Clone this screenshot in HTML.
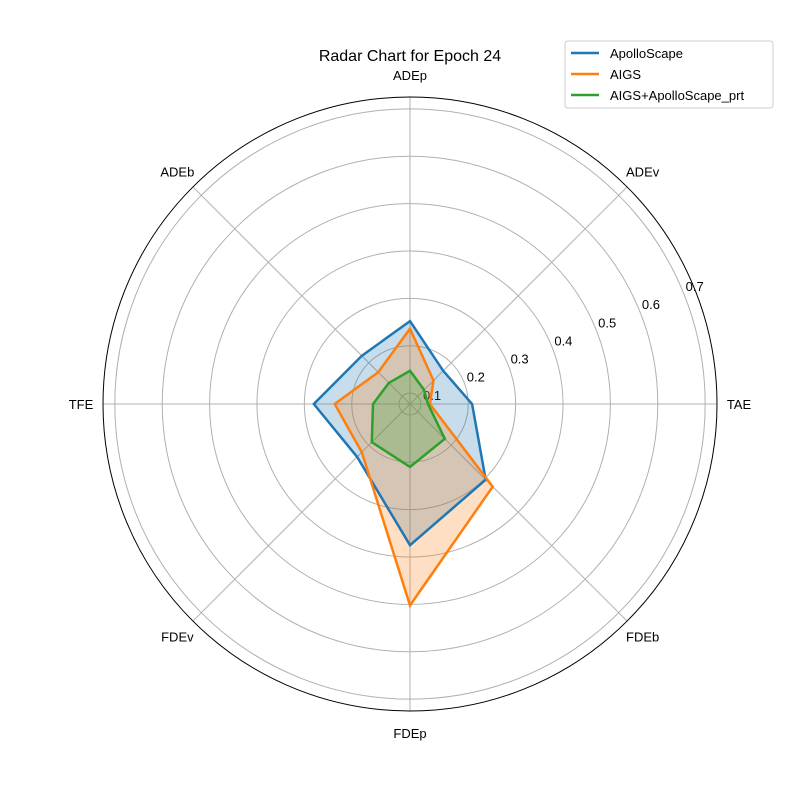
<!DOCTYPE html>
<html><head><meta charset="utf-8"><style>
body{margin:0;background:#fff;}
svg{font-family:"Liberation Sans","DejaVu Sans",sans-serif;}
</style></head><body>
<svg id="chart" width="800" height="800" viewBox="0 0 800 800" xmlns="http://www.w3.org/2000/svg">
<rect width="800" height="800" fill="#fff"/>
<g id="grid"></g>
<g id="fills"></g>
<g id="series"></g>
<g id="labels"></g>
<text x="410" y="61" text-anchor="middle" font-size="16">Radar Chart for Epoch 24</text>
<g>
<rect x="565" y="41" width="208" height="67" rx="3" fill="#fff" stroke="#ccc"/>
<line x1="571" y1="53" x2="599" y2="53" stroke="#1f77b4" stroke-width="2.5"/>
<text x="610" y="58" font-size="13">ApolloScape</text>
<line x1="571" y1="74" x2="599" y2="74" stroke="#ff7f0e" stroke-width="2.5"/>
<text x="610" y="79" font-size="13">AIGS</text>
<line x1="571" y1="95" x2="599" y2="95" stroke="#2ca02c" stroke-width="2.5"/>
<text x="610" y="100" font-size="13">AIGS+ApolloScape_prt</text>
</g>
</svg>
<script>
const categories = ["ADEp","ADEv","TAE","FDEb","FDEp","FDEv","TFE","ADEb"];
const apolloValues = [0.252,0.176,0.208,0.303,0.375,0.235,0.280,0.221];
const aigsValues = [0.236,0.147,0.119,0.324,0.502,0.221,0.236,0.172];
const comboValues = [0.147,0.119,0.115,0.181,0.210,0.191,0.155,0.140];
const radialTicks = [0.1,0.2,0.3,0.4,0.5,0.6,0.7];
const rMin = 0.077, rMax = 0.725;

const NS = "http://www.w3.org/2000/svg";
const cx = 410, cy = 404, R = 307;
function rScale(v){ return (v - rMin) / (rMax - rMin) * R; }
function ang(i){ return Math.PI/2 - i * 2*Math.PI/categories.length; }
function pt(i, r){ return [cx + r*Math.cos(ang(i)), cy - r*Math.sin(ang(i))]; }
function mk(tag, attrs, parent){ const e=document.createElementNS(NS,tag); for(const k in attrs) e.setAttribute(k, attrs[k]); parent.appendChild(e); return e; }

const grid = document.getElementById('grid');
radialTicks.forEach(t => {
  const c = mk('circle', {cx, cy, r: rScale(t), fill:'none', stroke:'#b0b0b0', 'stroke-width':1}, grid);
  
  
  const r = rScale(t) + 13, a = 22.5*Math.PI/180;
  const tx = mk('text', {x: cx + r*Math.cos(a), y: cy - r*Math.sin(a) + 5, 'text-anchor':'middle', 'font-size':13}, grid);
  tx.textContent = t.toFixed(1);
  
  
});
categories.forEach((c, i) => {
  const [x, y] = pt(i, R);
  const l = mk('line', {x1: cx, y1: cy, x2: x, y2: y, stroke:'#b0b0b0', 'stroke-width':1}, grid);
  
  
});
const outer = mk('circle', {cx, cy, r: R, fill:'none', stroke:'#000', 'stroke-width':1}, grid);



const fills = document.getElementById('fills');
const series = document.getElementById('series');
[[apolloValues,'#1f77b4','apolloscape'],[aigsValues,'#ff7f0e','aigs'],[comboValues,'#2ca02c','aigs-apolloscape-prt']].forEach(([vals,col,name]) => {
  const pts = vals.map((v,i) => pt(i, rScale(v)).map(n=>n.toFixed(1)).join(',')).join(' ');
  const f = mk('polygon', {points: pts, fill: col, 'fill-opacity': 0.25, stroke: 'none'}, fills);
  
  
  const p = mk('polygon', {points: pts, fill: 'none', stroke: col, 'stroke-width': 2.5, 'stroke-linejoin':'miter'}, series);
  
  
});

const labels = document.getElementById('labels');
categories.forEach((c, i) => {
  const [x, y] = pt(i, R + 22);
  const t = mk('text', {x, y: y + 5, 'text-anchor':'middle', 'font-size':13}, labels);
  t.textContent = c;
  
  
});
</script>
</body></html>
